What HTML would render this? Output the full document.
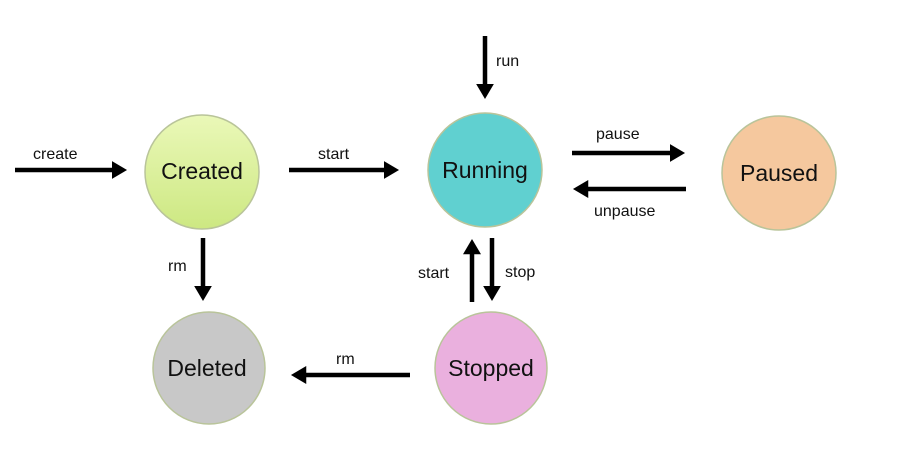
<!DOCTYPE html>
<html><head><style>body{margin:0;background:#fff}svg{display:block}</style></head><body>
<svg width="924" height="460" viewBox="0 0 924 460" xmlns="http://www.w3.org/2000/svg" font-family="Liberation Sans, sans-serif">
<defs>
<linearGradient id="g1" x1="0" y1="0" x2="0" y2="1"><stop offset="0" stop-color="#eaf8b8"/><stop offset="1" stop-color="#cde882"/></linearGradient>
<marker id="a" markerWidth="4" markerHeight="4" refX="0.5" refY="2" orient="auto" markerUnits="strokeWidth"><path d="M0,0 L3.4,2 L0,4 z" fill="#000"/></marker>
</defs>
<g stroke="#000" stroke-width="4.5" marker-end="url(#a)">
<line x1="15" y1="170" x2="114" y2="170"/>
<line x1="289" y1="170" x2="386" y2="170"/>
<line x1="485" y1="36" x2="485" y2="86"/>
<line x1="572" y1="153" x2="672" y2="153"/>
<line x1="686" y1="189" x2="586" y2="189"/>
<line x1="203" y1="238" x2="203" y2="288"/>
<line x1="472" y1="302" x2="472" y2="252"/>
<line x1="492" y1="238" x2="492" y2="288"/>
<line x1="410" y1="375" x2="304" y2="375"/>
</g>
<g stroke="#b9c49a" stroke-width="1.5">
<circle cx="202" cy="172" r="57" fill="url(#g1)"/>
<circle cx="485" cy="170" r="57" fill="#60d0d0"/>
<circle cx="779" cy="173" r="57" fill="#f5c89e"/>
<circle cx="209" cy="368" r="56" fill="#c8c8c8"/>
<circle cx="491" cy="368" r="56" fill="#eab0de"/>
</g>
<g font-size="23" text-anchor="middle" fill="#111">
<text x="202" y="179">Created</text>
<text x="485" y="178">Running</text>
<text x="779" y="181">Paused</text>
<text x="207" y="376">Deleted</text>
<text x="491" y="376">Stopped</text>
</g>
<g font-size="16" fill="#111">
<text x="33" y="159">create</text>
<text x="318" y="159">start</text>
<text x="496" y="66">run</text>
<text x="596" y="139">pause</text>
<text x="594" y="216">unpause</text>
<text x="168" y="271">rm</text>
<text x="418" y="278">start</text>
<text x="505" y="277">stop</text>
<text x="336" y="364">rm</text>
</g>
</svg>
</body></html>
